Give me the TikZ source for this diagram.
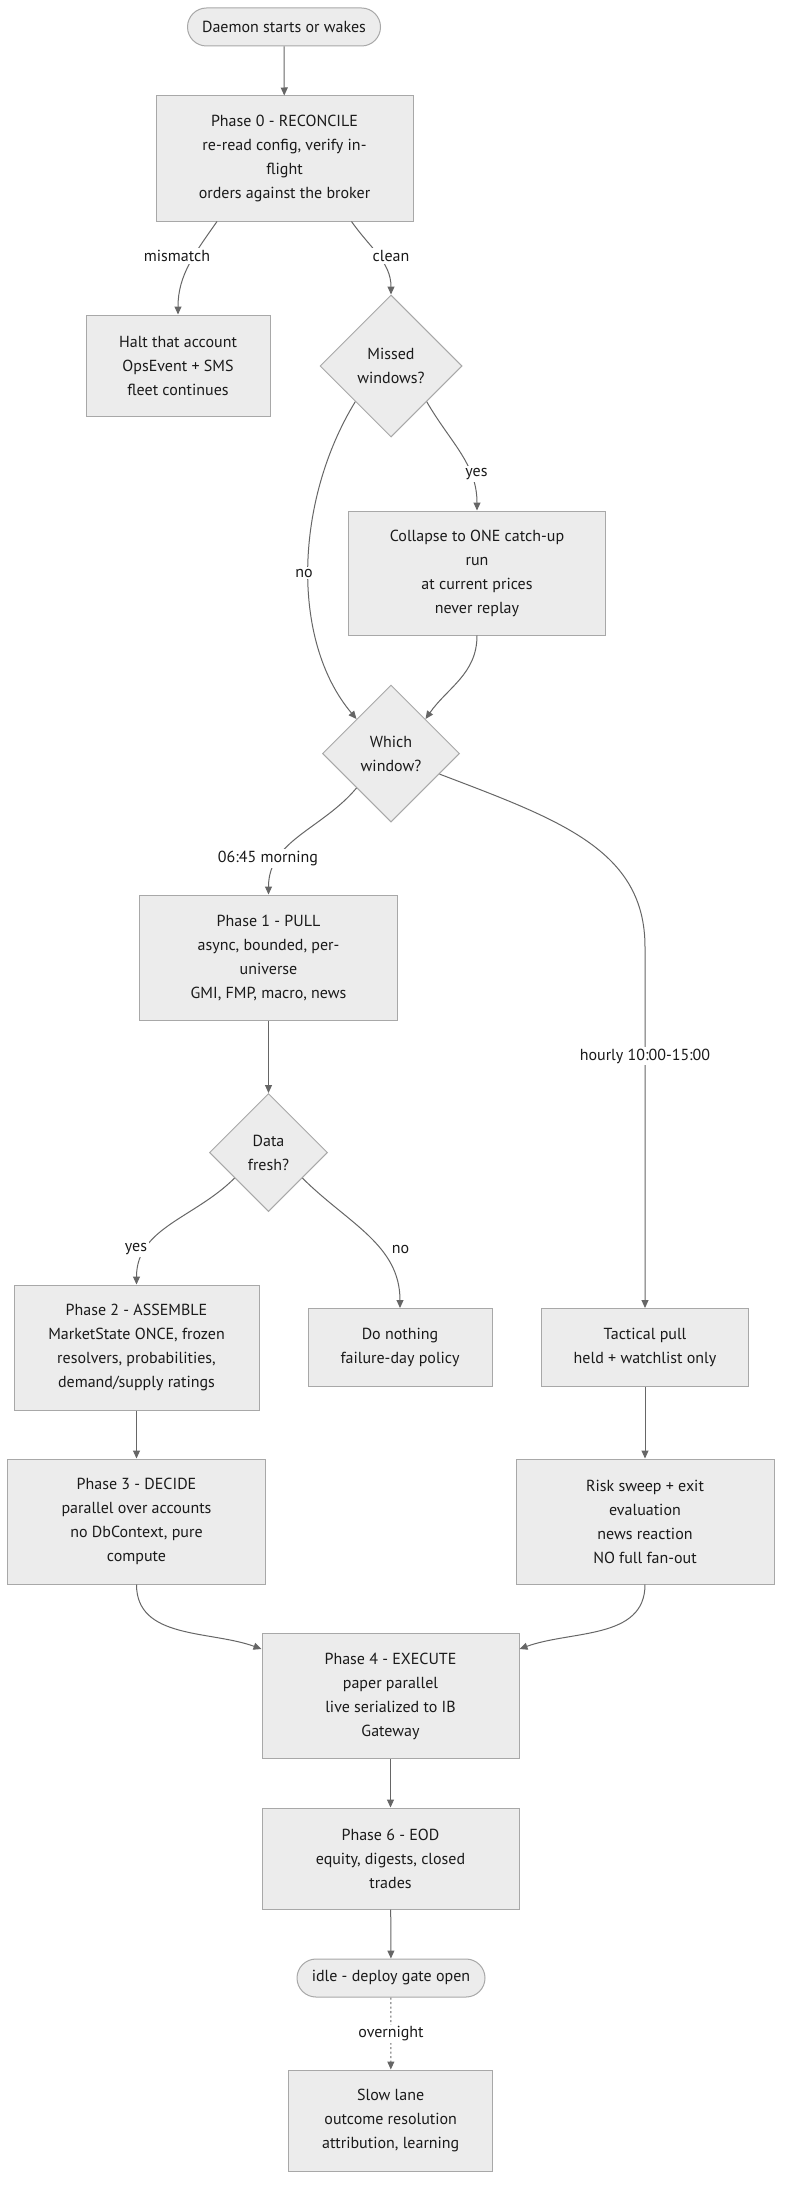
\documentclass[tikz,border=0pt]{standalone}
\usepackage{fontspec}
\setmainfont{PT Sans}
\usetikzlibrary{shapes.geometric,arrows.meta}
\definecolor{nodefill}{HTML}{ECECEC}
\definecolor{nodeline}{HTML}{A8A8A8}
\definecolor{edgeline}{HTML}{666666}
\definecolor{txt}{HTML}{1A1A1A}
\tikzset{
  box/.style 2 args={draw=nodeline, fill=nodefill, line width=1pt, align=center,
    inner sep=0pt, minimum width=#1, minimum height=#2, text=txt},
  pill/.style 2 args={box={#1}{#2}, rounded corners=19pt},
  dec/.style={draw=nodeline, fill=nodefill, line width=1pt, align=center, shape=diamond,
    inner sep=0pt, minimum width=#1, minimum height=#1, text=txt},
  edge/.style={draw=edgeline, line width=1pt, -{Triangle[length=8pt,width=7pt]}},
  dottededge/.style={edge, dash pattern=on 2pt off 2.5pt},
  lbl/.style={fill=white, inner sep=2pt, text=txt}
}
\begin{document}
\begin{tikzpicture}[x=1pt,y=1pt,font=\fontsize{16}{24}\selectfont]
\useasboundingbox (0,0) rectangle (790,-2202);
\fill[white] (0,0) rectangle (790,-2202);

\node[pill={193}{38}] (start) at (284,-27) {Daemon starts or wakes};
\node[box={257}{125}] (p0) at (284.5,-158.5) {Phase 0 - RECONCILE\\re-read config, verify in-\\flight\\orders against the broker};
\node[box={184}{101}] (halt) at (178,-365.5) {Halt that account\\OpsEvent + SMS\\fleet continues};
\node[dec=142] (missed) at (391,-366) {Missed\\windows?};
\node[box={257}{124}] (collapse) at (477,-573) {Collapse to ONE catch-up\\run\\at current prices\\never replay};
\node[dec=137] (which) at (391,-753.5) {Which\\window?};
\node[box={258}{125}] (p1) at (268.5,-957.5) {Phase 1 - PULL\\async, bounded, per-\\universe\\GMI, FMP, macro, news};
\node[dec=118] (data) at (268.5,-1152.5) {Data\\fresh?};
\node[box={245}{125}] (p2) at (136.5,-1347.5) {Phase 2 - ASSEMBLE\\MarketState ONCE, frozen\\resolvers, probabilities,\\demand/supply ratings};
\node[box={184}{78}] (nothing) at (400,-1347.5) {Do nothing\\failure-day policy};
\node[box={207.5}{78}] (tact) at (645,-1347.5) {Tactical pull\\held + watchlist only};
\node[box={257.5}{125}] (p3) at (136.5,-1521.5) {Phase 3 - DECIDE\\parallel over accounts\\no DbContext, pure\\compute};
\node[box={258}{125}] (risk) at (645,-1521.5) {Risk sweep + exit\\evaluation\\news reaction\\NO full fan-out};
\node[box={257}{125}] (p4) at (390.5,-1696) {Phase 4 - EXECUTE\\paper parallel\\live serialized to IB\\Gateway};
\node[box={257}{101}] (p6) at (390.5,-1858.5) {Phase 6 - EOD\\equity, digests, closed\\trades};
\node[pill={188}{38}] (idle) at (391,-1978) {idle - deploy gate open};
\node[box={204}{101}] (slow) at (390.7,-2120.5) {Slow lane\\outcome resolution\\attribution, learning};

% edges
\draw[edge] (start) -- (p0);
\draw[edge] ([xshift=-67.5pt]p0.south) to[out=-125,in=90] (halt.north);
\draw[edge] ([xshift=67pt]p0.south) to[out=-55,in=90] (missed.north);
\draw[edge] (missed.south east) to[out=-60,in=90] (collapse.north);
\draw[edge] (missed.south west) .. controls (295,-500) and (290,-640) .. (which.north west);
\draw[edge] (collapse.south) to[out=-90,in=55] (which.north east);
\draw[edge] (which.south west) to[out=-130,in=90] (p1.north);
\draw[edge] (which.-23) .. controls (560,-820) and (645,-850) .. (645,-947) -- (tact.north);
\draw[edge] (p1) -- (data);
\draw[edge] (data.-143) to[out=-135,in=90] (p2.north);
\draw[edge] (data.-37) to[out=-45,in=90] (nothing.north);
\draw[edge] (tact) -- (risk);
\draw[edge] (p2) -- (p3);
\draw[edge] (p3.south) to[out=-90,in=160] ([yshift=-16pt]p4.north west);
\draw[edge] (risk.south) to[out=-90,in=20] ([yshift=-16pt]p4.north east);
\draw[edge] (p4) -- (p6);
\draw[edge] (p6) -- (idle);
\draw[dottededge] (idle) -- (slow);

% labels
\node[lbl] (lmis) at (177,-256) {mismatch};
\node[lbl] (lclean) at (391,-256) {clean};
\node[lbl] (lyes1) at (476.5,-474) {yes};
\node[lbl] (lno1) at (304,-573) {no};
\node[lbl] (lmorn) at (268,-858.6) {06:45 morning};
\node[lbl] (lhour) at (645,-1056) {hourly 10:00-15:00};
\node[lbl] (lyes2) at (136,-1249) {yes};
\node[lbl] (lno2) at (400.5,-1249) {no};
\node[lbl] (lnight) at (391,-2034) {overnight};
\end{tikzpicture}
\end{document}
